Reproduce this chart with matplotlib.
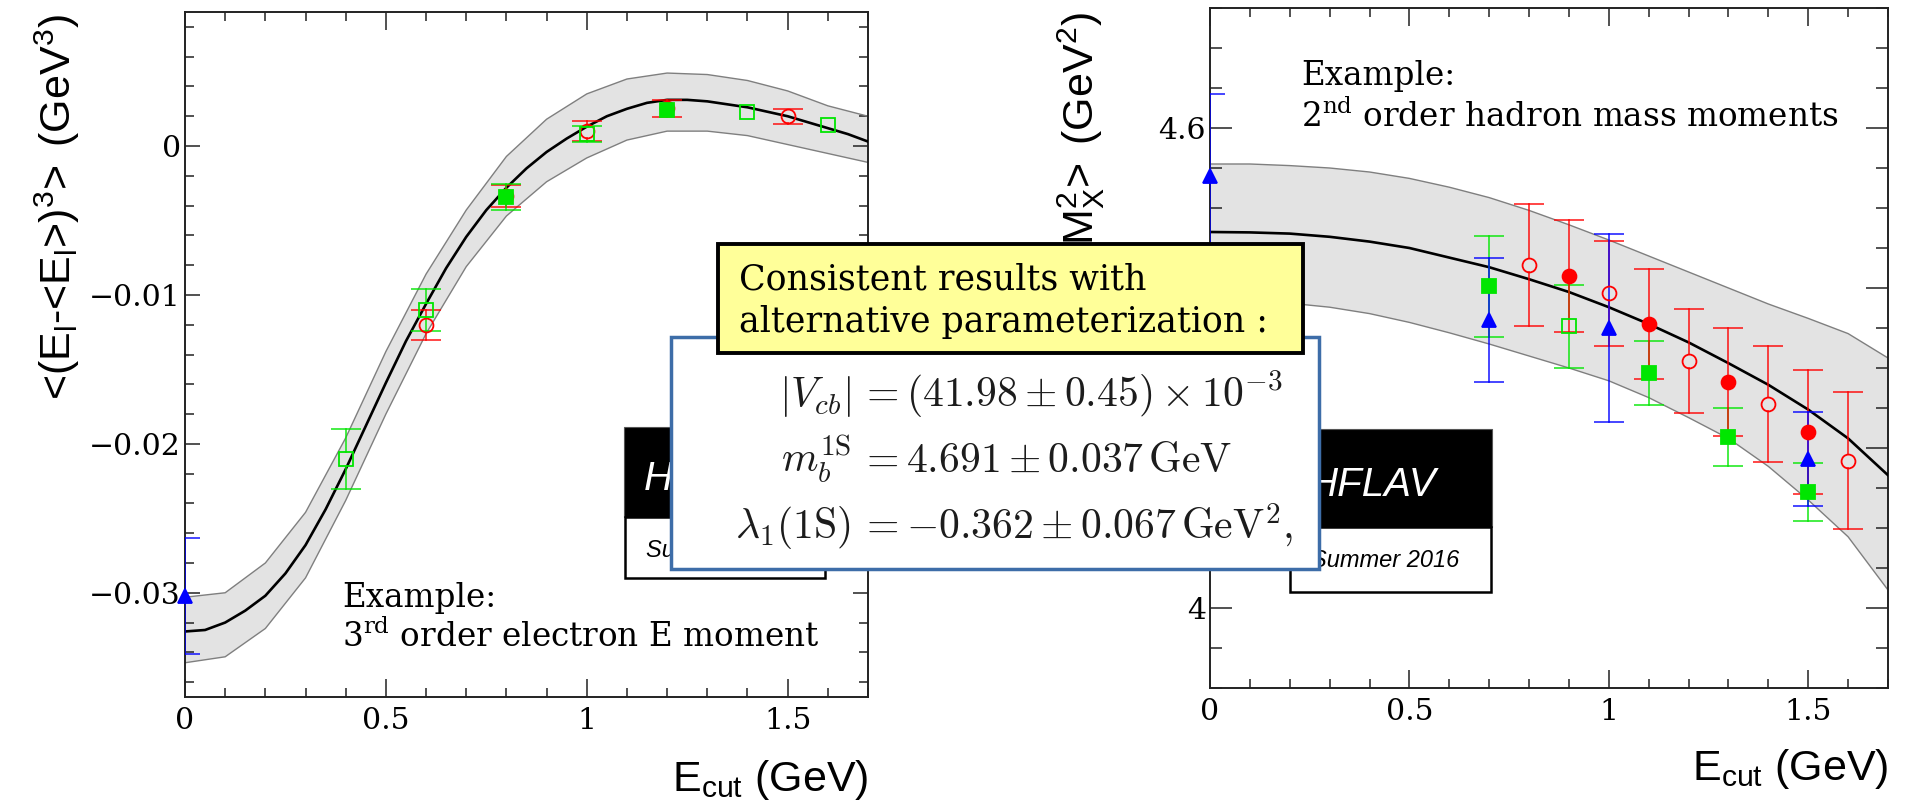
import numpy as np
import matplotlib
matplotlib.use("Agg")
import matplotlib.pyplot as plt
from matplotlib.patches import Rectangle
from matplotlib.ticker import MultipleLocator

plt.rcParams["mathtext.fontset"] = "custom"
plt.rcParams["mathtext.rm"] = "Liberation Sans"
plt.rcParams["mathtext.it"] = "Liberation Sans:italic"
plt.rcParams["mathtext.bf"] = "Liberation Sans:bold"
plt.rcParams["mathtext.sf"] = "Liberation Sans"

SERIF = "DejaVu Serif"
SANS = "Liberation Sans"

# ---- 3rd order electron energy moment vs E_cut ----
e3_fit_x = [0.00, 0.05, 0.10, 0.15, 0.20, 0.25, 0.30, 0.35, 0.40, 0.45, 0.50, 0.55,
            0.60, 0.65, 0.70, 0.75, 0.80, 0.85, 0.90, 0.95, 1.00, 1.05, 1.10, 1.15,
            1.20, 1.25, 1.30, 1.35, 1.40, 1.45, 1.50, 1.55, 1.60, 1.65, 1.70]
e3_fit_y = [-0.0326, -0.0325, -0.0320, -0.0312, -0.0302, -0.0287, -0.0268, -0.0244,
            -0.0217, -0.0188, -0.0159, -0.0131, -0.0106, -0.0082, -0.0061, -0.0043,
            -0.0028, -0.0015, -0.0004, 0.0005, 0.0013, 0.0020, 0.0025, 0.0029,
            0.0031, 0.0031, 0.0030, 0.0028, 0.0026, 0.0023, 0.0020, 0.0016,
            0.0012, 0.0008, 0.0003]
e3_band_x = [0.0, 0.1, 0.2, 0.3, 0.4, 0.5, 0.6, 0.7, 0.8, 0.9,
             1.0, 1.1, 1.2, 1.3, 1.4, 1.5, 1.6, 1.7]
e3_band_hi = [-0.0303, -0.0300, -0.0280, -0.0246, -0.0196, -0.0138, -0.0086, -0.0043,
              -0.0007, 0.0018, 0.0035, 0.0045, 0.0049, 0.0048, 0.0044, 0.0037,
              0.0027, 0.0020]
e3_band_lo = [-0.0347, -0.0343, -0.0324, -0.0290, -0.0238, -0.0180, -0.0126, -0.0081,
              -0.0047, -0.0024, -0.0008, 0.0004, 0.0010, 0.0010, 0.0007, 0.0001,
              -0.0005, -0.0011]

e3_blue_x = [0.0]
e3_blue_y = [-0.0302]
e3_blue_err = [0.0039]
e3_green_open_x = [0.4, 0.6, 1.0, 1.4, 1.6]
e3_green_open_y = [-0.0210, -0.0110, 0.0008, 0.0023, 0.0014]
e3_green_open_err = [0.0020, 0.00143, 0.00053, 0.0002, 0.0002]
e3_green_full_x = [0.8, 1.2]
e3_green_full_y = [-0.00345, 0.0024]
e3_green_full_err = [0.00087, 0.0003]
e3_red_open_x = [0.6, 1.0, 1.5]
e3_red_open_y = [-0.0120, 0.0010, 0.0020]
e3_red_open_err = [0.0010, 0.00066, 0.0005]
e3_red_full_x = [0.8, 1.2]
e3_red_full_y = [-0.00336, 0.00253]
e3_red_full_err = [0.00074, 0.00056]

# ---- 2nd order hadron mass moment vs E_cut ----
mx2_fit_x = [0.0, 0.1, 0.2, 0.3, 0.4, 0.5, 0.6, 0.7, 0.8, 0.9,
             1.0, 1.1, 1.2, 1.3, 1.4, 1.5, 1.6, 1.7]
mx2_fit_y = [4.470, 4.4695, 4.468, 4.464, 4.458, 4.450, 4.438, 4.426, 4.411, 4.395,
             4.376, 4.355, 4.332, 4.306, 4.279, 4.248, 4.212, 4.166]
mx2_band_hi = [4.555, 4.555, 4.553, 4.550, 4.545, 4.537, 4.526, 4.513, 4.497, 4.479,
               4.460, 4.440, 4.420, 4.400, 4.380, 4.362, 4.343, 4.3125]
mx2_band_lo = [4.383, 4.383, 4.381, 4.376, 4.368, 4.357, 4.344, 4.330, 4.315, 4.300,
               4.284, 4.263, 4.238, 4.212, 4.177, 4.135, 4.089, 4.0225]

mx2_blue_x = [0.0, 0.7, 1.0, 1.5]
mx2_blue_y = [4.540, 4.360, 4.350, 4.186]
mx2_blue_err = [0.102, 0.078, 0.118, 0.059]
mx2_green_full_x = [0.7, 1.1, 1.3, 1.5]
mx2_green_full_y = [4.402, 4.294, 4.214, 4.145]
mx2_green_full_err = [0.063, 0.040, 0.036, 0.036]
mx2_green_open_x = [0.9]
mx2_green_open_y = [4.352]
mx2_green_open_err = [0.052]
mx2_red_full_x = [0.9, 1.1, 1.3, 1.5]
mx2_red_full_y = [4.415, 4.355, 4.282, 4.220]
mx2_red_full_err = [0.070, 0.069, 0.0675, 0.077]
mx2_red_open_x = [0.8, 1.0, 1.2, 1.4, 1.6]
mx2_red_open_y = [4.4285, 4.3935, 4.309, 4.255, 4.184]
mx2_red_open_err = [0.0765, 0.0655, 0.065, 0.072, 0.0855]

# alternative (1S) fit results
vcb = (41.98, 0.45)
mb_1s = (4.691, 0.037)
lambda1_1s = (-0.362, 0.067)

x_ticks = [0.0, 0.5, 1.0, 1.5]
x_tick_labels = ["0", "0.5", "1", "1.5"]
e3_yticks = [-0.03, -0.02, -0.01, 0.0]
e3_ytick_labels = ["\u22120.03", "\u22120.02", "\u22120.01", "0"]
mx2_yticks = [4.0, 4.2, 4.4, 4.6]
mx2_ytick_labels = ["4", "4.2", "4.4", "4.6"]

RED, GREEN, BLUE = "#ff0000", "#00e600", "#0000ff"

W, H = 1907, 810
fig = plt.figure(figsize=(W / 100, H / 100), dpi=100)


def px_axes(x0, y0, x1, y1, **kw):
    return fig.add_axes([x0 / W, 1 - y1 / H, (x1 - x0) / W, (y1 - y0) / H], **kw)


def draw_fit(ax, fx, fy, bx, lo, hi):
    ax.fill_between(bx, lo, hi, facecolor="#e3e3e3", edgecolor="none", zorder=1)
    ax.plot(bx, lo, color="#7f7f7f", lw=1.0, zorder=2)
    ax.plot(bx, hi, color="#7f7f7f", lw=1.0, zorder=2)
    ax.plot(fx, fy, color="black", lw=1.9, zorder=3)


def draw_errors(ax, x, y, err, color, ms=10, cap=21):
    # stems stop at the marker edge, like ROOT does
    y0, y1 = ax.get_ylim()
    gap = (ms / 2) * (100 / 72) * (y1 - y0) / (ax.bbox.height)
    for xi, yi, ei in zip(x, y, err):
        if ei <= gap:
            continue
        ax.plot([xi, xi], [yi + gap, yi + ei], color=color, lw=1.2, alpha=0.85, zorder=4)
        ax.plot([xi, xi], [yi - gap, yi - ei], color=color, lw=1.2, alpha=0.85, zorder=4)
        ax.plot([xi, xi], [yi - ei, yi + ei], ls="none", marker="_", ms=cap,
                mew=1.2, color=color, alpha=0.85, zorder=4)


def draw_markers(ax, x, y, color, marker, filled, ms=10):
    ax.plot(x, y, ls="none", marker=marker, ms=ms, mec=color,
            mfc=color if filled else "none", mew=1.3, zorder=5, clip_on=False)


def style_axes(ax, ylim, yticks, ylabels, yminor, ylen):
    ax.set_xlim(0, 1.7)
    ax.set_ylim(*ylim)
    ax.set_xticks(x_ticks, x_tick_labels, fontfamily=SERIF, fontsize=21.5)
    ax.set_yticks(yticks, ylabels, fontfamily=SERIF, fontsize=21.5)
    ax.xaxis.set_minor_locator(MultipleLocator(0.1))
    ax.yaxis.set_minor_locator(MultipleLocator(yminor))
    ax.tick_params(which="both", direction="in", top=True, right=True,
                   width=1.1, color="#222222", labelcolor="black")
    ax.tick_params(axis="x", which="major", length=13, pad=7)
    ax.tick_params(axis="x", which="minor", length=6.5)
    ax.tick_params(axis="y", which="major", length=ylen[0], pad=3)
    ax.tick_params(axis="y", which="minor", length=ylen[1])
    for s in ax.spines.values():
        s.set_linewidth(1.4)
        s.set_color("#222222")


# ---------------- left panel ----------------
axl = px_axes(185, 12, 868, 697)
style_axes(axl, (-0.037, 0.009), e3_yticks, e3_ytick_labels, 0.002, (11, 6.5))
draw_fit(axl, e3_fit_x, e3_fit_y, e3_band_x, e3_band_lo, e3_band_hi)
draw_errors(axl, e3_red_full_x, e3_red_full_y, e3_red_full_err, RED)
draw_errors(axl, e3_red_open_x, e3_red_open_y, e3_red_open_err, RED)
draw_errors(axl, e3_green_open_x, e3_green_open_y, e3_green_open_err, GREEN)
draw_errors(axl, e3_green_full_x, e3_green_full_y, e3_green_full_err, GREEN)
draw_errors(axl, e3_blue_x, e3_blue_y, e3_blue_err, BLUE)
draw_markers(axl, e3_red_full_x, e3_red_full_y, RED, "o", True)
draw_markers(axl, e3_red_open_x, e3_red_open_y, RED, "o", False)
draw_markers(axl, e3_green_open_x, e3_green_open_y, GREEN, "s", False)
draw_markers(axl, e3_green_full_x, e3_green_full_y, GREEN, "s", True)
draw_markers(axl, e3_blue_x, e3_blue_y, BLUE, "^", True, ms=9.5)

axl.set_ylabel(r"$\text{<(E}_{\text{l}}\text{-<E}_{\text{l}}\text{>)}^{\text{3}}"
               r"\text{>}\ \,\text{(GeV}^{\text{3}}\text{)}$", loc="top", fontsize=31)
axl.yaxis.set_label_coords(-0.151, 0.997)
axl.set_xlabel(r"$\text{E}_{\text{cut}}\ \text{(GeV)}$", loc="right", fontsize=31)
axl.xaxis.set_label_coords(1.0, -0.089)

# ---------------- right panel ----------------
axr = px_axes(1210, 8, 1888, 688)
style_axes(axr, (3.9, 4.75), mx2_yticks, mx2_ytick_labels, 0.05, (16, 8.6))
draw_fit(axr, mx2_fit_x, mx2_fit_y, mx2_fit_x, mx2_band_lo, mx2_band_hi)
draw_errors(axr, mx2_green_full_x, mx2_green_full_y, mx2_green_full_err, GREEN)
draw_errors(axr, mx2_green_open_x, mx2_green_open_y, mx2_green_open_err, GREEN)
draw_errors(axr, mx2_red_full_x, mx2_red_full_y, mx2_red_full_err, RED)
draw_errors(axr, mx2_red_open_x, mx2_red_open_y, mx2_red_open_err, RED)
draw_errors(axr, mx2_blue_x, mx2_blue_y, mx2_blue_err, BLUE)
draw_markers(axr, mx2_green_full_x, mx2_green_full_y, GREEN, "s", True)
draw_markers(axr, mx2_green_open_x, mx2_green_open_y, GREEN, "s", False)
draw_markers(axr, mx2_red_full_x, mx2_red_full_y, RED, "o", True)
draw_markers(axr, mx2_red_open_x, mx2_red_open_y, RED, "o", False)
draw_markers(axr, mx2_blue_x, mx2_blue_y, BLUE, "^", True, ms=9.5)

axr.set_ylabel(r"$\text{<M}_{\text{X}}^{\text{2}}\text{>}\ \,\text{(GeV}^{\text{2}}\text{)}$",
               loc="top", fontsize=31)
axr.yaxis.set_label_coords(-0.152, 0.994)
axr.set_xlabel(r"$\text{E}_{\text{cut}}\ \text{(GeV)}$", loc="right", fontsize=31)
axr.xaxis.set_label_coords(1.0, -0.087)

# ---------------- overlay in pixel coordinates ----------------
ov = fig.add_axes([0, 0, 1, 1], zorder=10)
ov.set_xlim(0, W)
ov.set_ylim(H, 0)
ov.axis("off")
ov.patch.set_alpha(0)

ov.text(342, 607, "Example:", family=SERIF, fontsize=23.5, va="baseline")
ov.text(342, 647, r"3$^{\mathrm{rd}}$ order electron E moment", family=SERIF,
        fontsize=23.5, va="baseline", math_fontfamily="dejavuserif")
ov.text(1301, 85, "Example:", family=SERIF, fontsize=23.5, va="baseline")
ov.text(1301, 127, r"2$^{\mathrm{nd}}$ order hadron mass moments", family=SERIF,
        fontsize=23.5, va="baseline", math_fontfamily="dejavuserif")


def hflav_logo(x0, y0, w, h_black, h_white, base_top, base_bot):
    ov.add_patch(Rectangle((x0, y0), w, h_black, fc="black", ec="#555555", lw=0.8, zorder=2))
    ov.add_patch(Rectangle((x0 + 1, y0 + h_black), w - 2, h_white, fc="white",
                           ec="black", lw=1.8, zorder=2))
    ov.text(x0 + 20, base_top, "HFLAV", color="white", family=SANS, style="italic",
            fontsize=29, va="baseline", zorder=3)
    ov.text(x0 + 22, base_bot, "Summer 2016", color="black", family=SANS, style="italic",
            fontsize=17, va="baseline", zorder=3)


hflav_logo(624, 427, 202, 90, 61, 490, 557)
hflav_logo(1289, 429, 203, 98, 65, 496, 567)

# result box and highlighted caption
ov.add_patch(Rectangle((671, 337), 648, 232, fc="white", ec="#3d6da8", lw=2.5, zorder=4))
ov.add_patch(Rectangle((718, 244), 585, 109, fc="#ffff99", ec="black", lw=2.8, zorder=6))
ov.text(739, 290, "Consistent results with", family=SERIF, fontsize=25, va="baseline", zorder=7)
ov.text(739, 332, "alternative parameterization :", family=SERIF, fontsize=25,
        va="baseline", zorder=7)

eq_lhs = [r"$|V_{cb}|$", r"$m_b^{1\mathrm{S}}$", r"$\lambda_1(1\mathrm{S})$"]
eq_rhs = [r"$= (%.2f \pm %.2f) \times 10^{-3}$" % vcb,
          r"$= %.3f \pm %.3f\,\mathrm{GeV}$" % mb_1s,
          r"$= -%.3f \pm %.3f\,\mathrm{GeV}^2,$" % (abs(lambda1_1s[0]), lambda1_1s[1])]
eq_base = [407, 472, 538]
for lhs, rhs, yb in zip(eq_lhs, eq_rhs, eq_base):
    ov.text(851, yb, lhs, math_fontfamily="cm", fontsize=30, ha="right", va="baseline",
            color="#1c1c1c", zorder=5)
    ov.text(859, yb, rhs, math_fontfamily="cm", fontsize=30, ha="left", va="baseline",
            color="#1c1c1c", zorder=5)

fig.savefig("out.png", dpi=100)
